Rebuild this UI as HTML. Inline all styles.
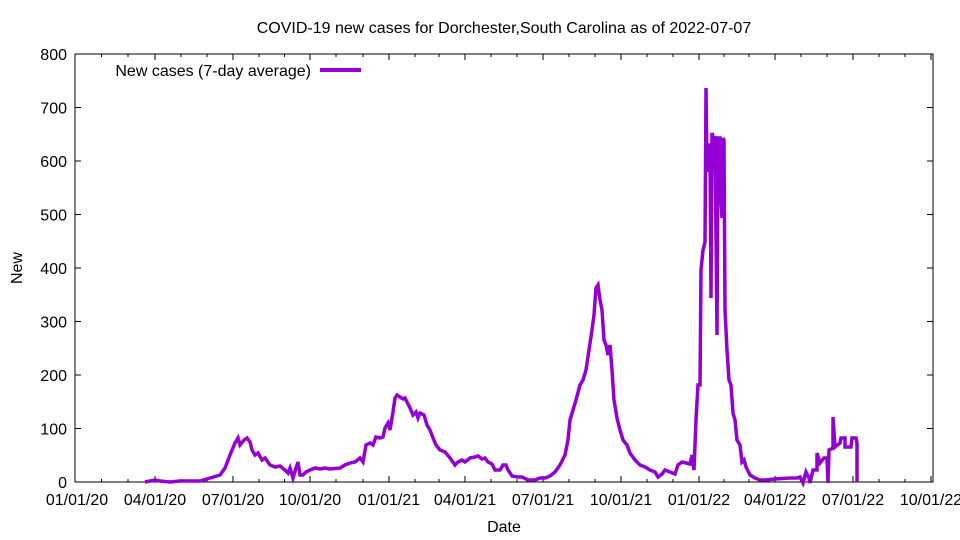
<!DOCTYPE html>
<html><head><style>body{margin:0;background:#fff}svg{display:block;font-family:"Liberation Sans",sans-serif}</style></head><body>
<svg width="960" height="540" viewBox="0 0 960 540">
<rect width="960" height="540" fill="#fff"/>
<text x="504" y="33" font-size="16" text-anchor="middle">COVID-19 new cases for Dorchester,South Carolina as of 2022-07-07</text>
<g stroke="#000" stroke-width="1" fill="none">
<rect x="75" y="54" width="858" height="428"/>
<path d="M75,482h6M933,482h-6M75,428.5h6M933,428.5h-6M75,375h6M933,375h-6M75,321.5h6M933,321.5h-6M75,268h6M933,268h-6M75,214.5h6M933,214.5h-6M75,161h6M933,161h-6M75,107.5h6M933,107.5h-6"/>
</g>
<g stroke="#000" stroke-width="1">
<path d="M75,482v-6M75,54v6M155,482v-6M155,54v6M233,482v-6M233,54v6M310,482v-6M310,54v6M389,482v-6M389,54v6M465,482v-6M465,54v6M543,482v-6M543,54v6M621,482v-6M621,54v6M699,482v-6M699,54v6M775,482v-6M775,54v6M853,482v-6M853,54v6M931,482v-6M931,54v6"/>
<path d="M101.5,482v-3M101.5,54v3M128,482v-3M128,54v3M181,482v-3M181,54v3M207,482v-3M207,54v3M259,482v-3M259,54v3M284.5,482v-3M284.5,54v3M336,482v-3M336,54v3M363,482v-3M363,54v3M415,482v-3M415,54v3M439,482v-3M439,54v3M491,482v-3M491,54v3M517,482v-3M517,54v3M569,482v-3M569,54v3M595,482v-3M595,54v3M647,482v-3M647,54v3M673,482v-3M673,54v3M724,482v-3M724,54v3M749,482v-3M749,54v3M801,482v-3M801,54v3M827,482v-3M827,54v3M879,482v-3M879,54v3M905,482v-3M905,54v3"/>
</g>
<g font-size="16" text-anchor="end">
<text x="67" y="488">0</text><text x="67" y="434.5">100</text><text x="67" y="381">200</text><text x="67" y="327.5">300</text><text x="67" y="274">400</text><text x="67" y="220.5">500</text><text x="67" y="167">600</text><text x="67" y="113.5">700</text><text x="67" y="60">800</text>
</g>
<g font-size="16" text-anchor="middle">
<text x="77" y="505">01/01/20</text><text x="155" y="505">04/01/20</text><text x="233" y="505">07/01/20</text><text x="310" y="505">10/01/20</text><text x="389" y="505">01/01/21</text><text x="465" y="505">04/01/21</text><text x="543" y="505">07/01/21</text><text x="621" y="505">10/01/21</text><text x="699" y="505">01/01/22</text><text x="775" y="505">04/01/22</text><text x="853" y="505">07/01/22</text><text x="931" y="505">10/01/22</text>
<text x="504" y="532">Date</text>
<text x="22" y="268" transform="rotate(-90 22 268)">New</text>
</g>
<text x="311" y="76" font-size="16" text-anchor="end">New cases (7-day average)</text>
<path d="M320,70H361" stroke="#9400d3" stroke-width="4"/>
<polyline fill="none" stroke="#9400d3" stroke-width="3.5" stroke-linejoin="miter" points="145,482 155,480 160,481 170,482 180,481 200,481 210,478 220,475 225,468 230,455 235,443 238,438 240,445 244,440 247,438 250,442 252,450 255,455 258,453 262,460 265,458 270,465 275,467 280,466 285,470 288,473 290,468 293,478 296,468 298,462 300,475 303,475 306,472 310,470 315,468 320,469 325,468 330,469 340,468 345,465 350,463 355,462 360,458 363,462 366,445 370,443 373,445 376,437 380,438 383,437 385,428 388,423 390,430 393,412 395,398 397,395 400,397 403,399 405,398 410,408 413,415 416,412 418,418 420,413 424,415 427,425 430,430 433,438 436,445 440,450 445,452 450,458 455,465 458,462 462,460 465,462 470,458 475,457 478,456 482,459 485,458 488,462 492,464 495,470 500,470 503,465 506,465 508,470 512,476 518,477 522,477 528,480 535,480 540,478 545,478 550,476 555,472 560,465 565,455 568,440 570,420 573,410 576,400 580,385 583,380 586,370 589,350 592,330 594,315 596,288 598,285 600,300 602,310 604,340 606,345 608,355 610,345 612,370 614,400 617,418 620,430 623,440 627,445 630,453 635,460 640,465 645,467 650,470 655,472 658,477 662,474 665,470 670,472 675,474 678,465 682,462 686,463 690,464 692,455 694,470 696,420 698,385 700,385 701,270 703,250 705,242 706,88 707,172 708,145 710,145 711,298 712,133 714,140 715,136 717,335 718,138 720,138 721,200 722,218 723,138 724,140 725,310 727,350 729,380 731,385 733,413 735,420 737,440 740,445 742,462 744,460 746,467 750,475 755,478 760,480 765,480 775,479 790,478 797,478 800,477 803,483 806,472 809,478 810,483 813,470 817,470 817,453 820,463 824,458 827,458 828,483 829,450 833,448 833,417 835,447 840,443 841,438 845,438 845,447 851,447 852,438 856,438 857,443 857,482"/>
</svg>
</body></html>
